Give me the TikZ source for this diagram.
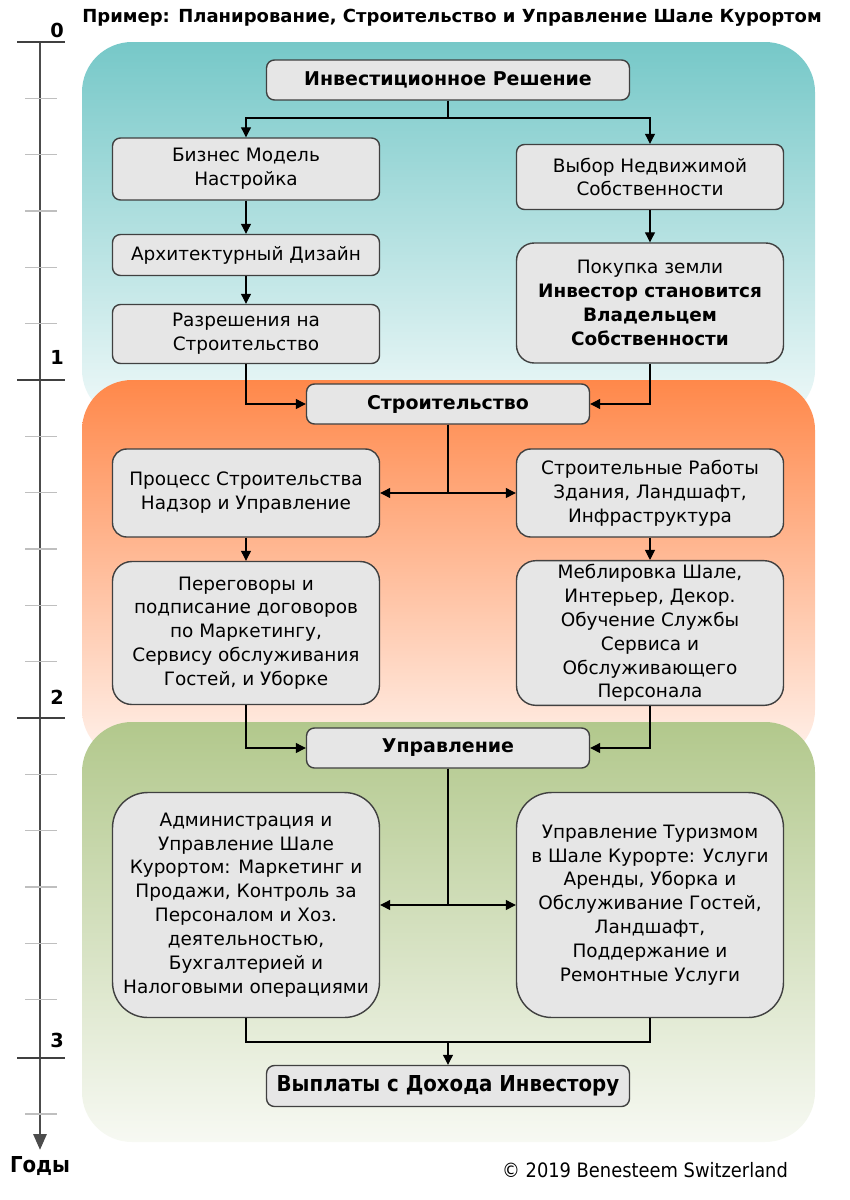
\documentclass[tikz,border=0pt]{standalone}
\usepackage{fontspec}
\setmainfont{DejaVu Sans}
\newfontfamily\condfont{DejaVu Sans Condensed}
\usepackage{xcolor}
\usepackage{tikz}
\usetikzlibrary{arrows.meta,positioning,calc}

\definecolor{tealtop}{RGB}{118,200,200}
\definecolor{tealbot}{RGB}{240,249,249}
\definecolor{orangetop}{RGB}{255,136,74}
\definecolor{orangebot}{RGB}{255,242,236}
\definecolor{greentop}{RGB}{178,200,140}
\definecolor{greenbot}{RGB}{247,249,243}
\definecolor{boxgray}{RGB}{230,230,230}

\begin{document}
\begin{tikzpicture}[
  x=0.02cm, y=-0.02cm,
  box/.style={draw=black!75, fill=boxgray, rounded corners=4.5pt, align=center,
              line width=0.8pt, inner sep=2pt, minimum width=5.34cm,
              font=\fontsize{10.5}{13.6}\selectfont},
  hub/.style={box, minimum width=5.66cm, minimum height=0.8cm, font=\bfseries\fontsize{10.8}{13}\selectfont},
  arr/.style={-{Triangle[length=2mm,width=2mm]}, line width=0.6pt},
  link/.style={line width=0.6pt},
  tick/.style={line width=1pt, black!75},
  minor/.style={line width=0.8pt, black!25},
  phase/.style={rounded corners=1cm}
]
\useasboundingbox (0,0) rectangle (849,1200);

% phases
\shade[phase, top color=tealtop, bottom color=tealbot] (82,42) rectangle (815,420);
\shade[phase, top color=orangetop, bottom color=orangebot] (82,380) rectangle (815,760);
\shade[phase, top color=greentop, bottom color=greenbot] (82,722) rectangle (815,1142);

% time axis
\draw[line width=1.7pt, black!70, -{Triangle[length=3.2mm,width=2.6mm]}] (40,42) -- (40,1150);
\foreach \y in {42,380,718,1058} \draw[tick] (17,\y) -- (65,\y);
\foreach \k in {1,...,5} {
  \draw[minor] (25,42+56.3*\k) -- (57,42+56.3*\k);
  \draw[minor] (25,380+56.3*\k) -- (57,380+56.3*\k);
  \draw[minor] (25,718+56.3*\k) -- (57,718+56.3*\k);
}
\draw[minor] (25,1114) -- (57,1114);
\node[font=\bfseries\fontsize{11}{13}\selectfont] (y0) at (57,30) {0};
\node[font=\bfseries\fontsize{11}{13}\selectfont] (y1) at (57,357) {1};
\node[font=\bfseries\fontsize{11}{13}\selectfont] (y2) at (57,697) {2};
\node[font=\bfseries\fontsize{11}{13}\selectfont] (y3) at (57,1040) {3};
\node[font=\condfont\bfseries\fontsize{12.5}{14}\selectfont] (years) at (40,1166) {Годы};

\node[font=\bfseries\fontsize{10.25}{12}\selectfont] (title) at (452,18)
  {Пример: Планирование, Строительство и Управление Шале Курортом};
\node[font=\condfont\fontsize{11.3}{13}\selectfont] (copy) at (645,1170)
  {© 2019 Benesteem Switzerland};

% investment phase
\node[box, minimum width=7.26cm, minimum height=0.8cm, font=\bfseries\fontsize{10.8}{13}\selectfont] (inv) at (448,80) {Инвестиционное Решение};
\node[box, minimum height=1.24cm] (biz) at (246,169) {Бизнес Модель\\Настройка};
\node[box, minimum height=0.82cm] (arch) at (246,255) {Архитектурный Дизайн};
\node[box, minimum height=1.18cm] (perm) at (246,334) {Разрешения на\\Строительство};
\node[box, minimum height=1.3cm] (prop) at (650,177) {Выбор Недвижимой\\Собственности};
\node[box, minimum height=2.4cm, rounded corners=10pt] (land) at (650,303)
  {Покупка земли\\\textbf{Инвестор становится}\\\textbf{Владельцем}\\\textbf{Собственности}};

% construction phase
\node[hub] (constr) at (448,404) {Строительство};
\node[box, minimum height=1.76cm, rounded corners=8pt] (proc) at (246,493) {Процесс Строительства\\Надзор и Управление};
\node[box, minimum height=1.76cm, rounded corners=8pt] (works) at (650,493) {Строительные Работы\\Здания, Ландшафт,\\Инфраструктура};
\node[box, minimum height=2.86cm, rounded corners=11pt] (negot) at (246,633)
  {Переговоры и\\подписание договоров\\по Маркетингу,\\Сервису обслуживания\\Гостей, и Уборке};
\node[box, minimum height=2.86cm, rounded corners=11pt] (furn) at (650,633)
  {Меблировка Шале,\\Интерьер, Декор.\\Обучение Службы\\Сервиса и\\Обслуживающего\\Персонала};

% management phase
\node[hub] (mgmt) at (448,748) {Управление};
\node[box, minimum height=4.5cm, rounded corners=20pt] (admin) at (246,905)
  {Администрация и\\Управление Шале\\Курортом: Маркетинг и\\Продажи, Контроль за\\Персоналом и Хоз.\\деятельностью,\\Бухгалтерией и\\Налоговыми операциями};
\node[box, minimum height=4.5cm, rounded corners=20pt] (tour) at (650,905)
  {Управление Туризмом\\в Шале Курорте: Услуги\\Аренды, Уборка и\\Обслуживание Гостей,\\Ландшафт,\\Поддержание и\\Ремонтные Услуги};
\node[box, minimum width=7.26cm, minimum height=0.82cm, font=\condfont\bfseries\fontsize{12.5}{14}\selectfont] (pay) at (448,1086) {Выплаты с Дохода Инвестору};

\coordinate (split) at (448,118);
\coordinate (join) at (448,1042);

\draw[link] (inv) -- (split);
\draw[arr] (split) -| (biz.north);
\draw[arr] (split) -| (prop.north);
\draw[arr] (biz) -- (arch);
\draw[arr] (arch) -- (perm);
\draw[arr] (prop) -- (land);
\draw[arr] (perm.south) |- (constr.west);
\draw[arr] (land.south) |- (constr.east);
\draw[arr] (constr.south) |- (proc.east);
\draw[arr] (constr.south) |- (works.west);
\draw[arr] (proc) -- (negot);
\draw[arr] (works) -- (furn);
\draw[arr] (negot.south) |- (mgmt.west);
\draw[arr] (furn.south) |- (mgmt.east);
\draw[arr] (mgmt.south) |- (admin.east);
\draw[arr] (mgmt.south) |- (tour.west);
\draw[link] (admin.south) |- (join) -| (tour.south);
\draw[arr] (join) -- (pay);
\end{tikzpicture}
\end{document}
